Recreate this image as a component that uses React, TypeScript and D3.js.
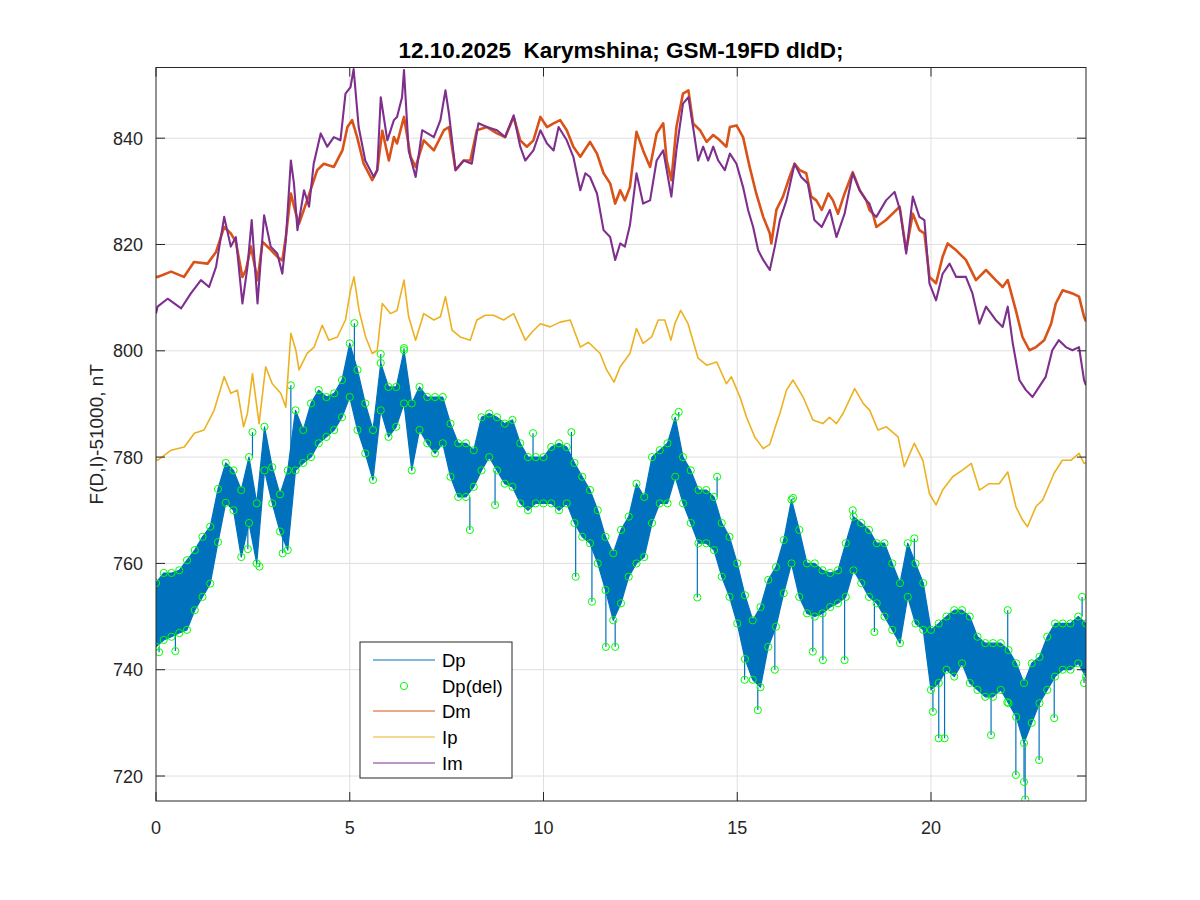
import React from "react";
import * as d3 from "d3";

const title = "12.10.2025  Karymshina; GSM-19FD dIdD;";
const yLabel = "F(D,I)-51000, nT";
const xTicks = [0, 5, 10, 15, 20];
const yTicks = [720, 740, 760, 780, 800, 820, 840];
const legendLabels = ["Dp", "Dp(del)", "Dm", "Ip", "Im"];

const dmT = [0.0,0.04,0.39,0.72,0.98,1.33,1.55,1.76,1.93,2.06,2.23,2.32,2.45,2.62,2.75,2.92,3.13,3.26,3.35,3.48,3.61,3.69,3.9,4.16,4.33,4.59,4.81,4.94,5.06,5.19,5.36,5.58,5.71,5.84,6.01,6.14,6.22,6.4,6.57,6.7,6.91,7.17,7.43,7.56,7.73,7.94,8.11,8.28,8.54,8.8,9.01,9.23,9.4,9.57,9.74,9.92,10.09,10.26,10.43,10.6,10.77,10.95,11.2,11.38,11.55,11.72,11.85,11.98,12.1,12.23,12.4,12.57,12.75,12.92,13.09,13.18,13.3,13.43,13.6,13.74,13.86,14.04,14.21,14.38,14.55,14.72,14.81,14.98,15.15,15.32,15.49,15.67,15.84,15.88,16.01,16.18,16.35,16.48,16.61,16.78,16.91,17.04,17.18,17.35,17.47,17.6,17.77,17.98,18.16,18.33,18.41,18.5,18.59,18.84,19.01,19.19,19.36,19.53,19.7,19.83,19.96,20.13,20.3,20.43,20.65,20.9,21.16,21.42,21.67,21.85,21.98,22.19,22.36,22.54,22.71,22.92,23.1,23.22,23.4,23.65,23.82,23.95,24.0];
const dmV = [813.9,813.9,814.9,813.9,816.7,816.4,818.6,823.3,822.1,820.5,813.9,815.2,819.6,813.3,820.5,819.3,817.7,817,821.4,829.6,825.8,823.9,828.3,834,835.2,834.6,837.7,842.1,843.4,840.2,835.2,832.1,834,841.4,835.8,840.2,839,844,836.5,834.6,839.6,837.7,841.5,842.1,834,835.8,835.8,841.5,842.1,840.9,840.2,844,839.6,838.4,839.6,844,842.1,842.8,843.4,841.5,838.4,836.5,839.3,837.1,833.4,831.5,827.7,830.2,828.3,830.8,841.2,837.7,834.6,840.9,842.8,835.8,832.1,842.1,848.4,849,842.8,841.5,839.3,840.6,839.6,838.4,842.1,842.4,840.2,834.6,829.6,825.2,822.1,820.2,826.5,829,832.7,835.2,834,833.4,829,828.3,826.5,829.6,828.3,825.8,829.6,833.6,830.2,828.3,826.5,825.8,823.3,824.6,825.8,827.1,818.9,825.8,822.7,822.1,813.9,812.7,817.7,820.2,818.9,817.1,813.3,815.2,813.3,812,813.3,807.6,802.6,800.1,800.7,802,805.1,808.9,811.4,810.8,810.2,806.4,805.5];

const imT = [0.0,0.04,0.3,0.65,0.9,1.16,1.37,1.55,1.76,1.93,2.06,2.23,2.36,2.47,2.62,2.79,2.96,3.13,3.26,3.35,3.48,3.56,3.65,3.82,3.95,4.07,4.25,4.42,4.59,4.76,4.89,5.02,5.1,5.23,5.4,5.62,5.71,5.8,5.97,6.14,6.22,6.35,6.4,6.52,6.7,6.87,7.17,7.34,7.47,7.56,7.73,7.94,8.15,8.32,8.54,8.8,9.01,9.23,9.4,9.53,9.74,9.92,10.09,10.26,10.39,10.6,10.77,10.95,11.08,11.2,11.38,11.55,11.72,11.85,11.98,12.1,12.23,12.4,12.57,12.75,12.92,13.09,13.3,13.43,13.6,13.74,13.86,13.99,14.12,14.25,14.38,14.51,14.68,14.81,14.98,15.15,15.28,15.41,15.54,15.67,15.84,15.97,16.1,16.27,16.48,16.65,16.82,16.99,17.18,17.39,17.56,17.77,17.98,18.16,18.33,18.41,18.5,18.59,18.84,19.06,19.2,19.36,19.53,19.7,19.83,19.96,20.13,20.3,20.48,20.65,20.9,21.07,21.25,21.42,21.67,21.85,21.98,22.11,22.28,22.45,22.62,22.79,22.96,23.13,23.3,23.48,23.65,23.82,23.95,24.0];
const imV = [807,808.3,809.8,808,810.8,813.3,812,815.8,825.2,819.6,821.4,808.9,815.8,824.6,808.9,825.5,819.6,818.3,814.5,820.8,835.8,831.5,822.7,830.2,827.1,835.2,840.9,838.4,840.2,839.6,848.4,849.6,853,842.1,835.8,832.7,834,847.7,839.6,843.4,844,847.7,852.8,837.7,832.7,841.5,840.2,843.4,849,844.6,834,835.8,835.2,842.8,842.1,841.5,840.2,844.3,838.4,835.8,837.7,841.5,839,837.7,842.1,839.6,836.5,830.2,833.4,832.7,829.6,822.7,821.4,817.1,820.2,819.6,823.6,833.4,827.7,828.3,835.8,837.7,829,837.7,846.5,847.7,842.1,835.8,838.4,835.8,838.4,835.8,834,837.1,835.2,830.8,826.5,823.3,818.9,817.1,815.2,819.6,824.6,828.3,835.2,832.7,831.5,824.6,823.3,826.5,821.4,825.8,833.4,830.2,828.3,827.7,825.8,825.2,828.3,829.9,826.5,818.3,829,825.2,824.6,812.7,809.5,814.5,816.4,813.9,813.9,810.8,805.1,808.3,805.8,804.5,808.3,801.4,794.5,792.6,791.3,793.2,795.1,800.1,802,800.7,800.1,800.7,794.5,793.5];

const ipT = [0.0,0.04,0.39,0.73,0.99,1.24,1.5,1.76,1.93,2.1,2.26,2.36,2.49,2.66,2.83,3.0,3.22,3.35,3.48,3.61,3.69,3.9,4.08,4.29,4.46,4.68,4.89,5.02,5.11,5.24,5.41,5.58,5.71,5.84,6.05,6.22,6.4,6.52,6.7,6.91,7.17,7.34,7.47,7.64,7.85,8.11,8.28,8.5,8.71,8.97,9.23,9.53,9.7,9.92,10.17,10.43,10.69,10.95,11.16,11.46,11.63,11.82,11.98,12.23,12.4,12.57,12.79,12.96,13.13,13.29,13.39,13.54,13.73,13.99,14.21,14.47,14.72,14.85,15.07,15.24,15.45,15.67,15.84,16.01,16.1,16.27,16.44,16.7,16.95,17.21,17.38,17.56,17.73,18.03,18.25,18.42,18.63,18.85,19.15,19.31,19.57,19.79,19.96,20.13,20.3,20.56,20.82,21.04,21.25,21.5,21.76,21.98,22.19,22.36,22.49,22.71,22.88,23.18,23.39,23.61,23.82,23.95,24.0];
const ipV = [779.5,779.4,781.3,781.9,784.5,785.1,788.8,795.1,792,792.6,785.7,788.2,795.7,786.3,797,793.8,792,789.4,803.3,800.1,796.4,799.5,800.7,804.8,802,802.6,805.8,811.4,813.9,807.6,802.6,799.5,800.1,808.9,807,807.6,813.3,806.4,802,807,805.8,806.4,810.2,803.9,802.6,802,805.8,806.7,806.7,805.8,807,802,803.5,805.1,804.5,805.4,805.8,800.7,801.6,799.5,796.4,794.1,797,799.5,804.2,801.4,802.6,805.8,805.8,802,805.1,807.6,805.1,798.6,797.3,797.9,793.8,795.1,791.3,787.5,783.8,781.6,782.4,786.3,788.2,792.6,794.5,791.3,787,786.3,787.5,786.3,788.2,792.9,790.1,788.8,785.1,785.7,783.8,778.2,782.6,779.4,773.1,771,773.8,776.3,777.6,778.8,773.8,775,775,777.2,770.7,768.2,766.9,770.7,771.9,777,779.4,779.4,780.7,778.8,779];

// Dp: upper and lower edge of the noisy band, sampled every 0.2 h
const dpT = [0,0.2,0.4,0.6,0.8,1,1.2,1.4,1.6,1.8,2,2.2,2.4,2.6,2.8,3,3.2,3.4,3.6,3.8,4,4.2,4.4,4.6,4.8,5,5.2,5.4,5.6,5.8,6,6.2,6.4,6.6,6.8,7,7.2,7.4,7.6,7.8,8,8.2,8.4,8.6,8.8,9,9.2,9.4,9.6,9.8,10,10.2,10.4,10.6,10.8,11,11.2,11.4,11.6,11.8,12,12.2,12.4,12.6,12.8,13,13.2,13.4,13.6,13.8,14,14.2,14.4,14.6,14.8,15,15.2,15.4,15.6,15.8,16,16.2,16.4,16.6,16.8,17,17.2,17.4,17.6,17.8,18,18.2,18.4,18.6,18.8,19,19.2,19.4,19.6,19.8,20,20.2,20.4,20.6,20.8,21,21.2,21.4,21.6,21.8,22,22.2,22.4,22.6,22.8,23,23.2,23.4,23.6,23.8,24];
const dpHi = [756.3,758.2,758.2,758.7,760.6,762.5,765,766.9,774,778.9,777.5,773.8,780,771.3,785.7,778.1,773,777.5,788.8,785.1,790.1,792.6,791.3,792,794.5,801.4,796.4,790.1,785.1,797.7,793.2,793.2,800.1,790.1,793.2,791.3,791.3,791.3,786.3,782.6,782.6,781.3,787.5,788.2,787.5,786.3,787,782.6,780,780,780,781.9,782.6,781.9,778.9,776.3,773.8,770,765,761.9,766.3,768.8,775,772.5,780,781.3,782.6,787.5,780,777.5,773.8,773.8,772.5,767.6,765,760,754,749.3,751.8,756.9,759.3,764.4,772,766.3,760,760,758.7,758.2,758.7,763.8,768.8,767.6,766.3,763.8,763.8,760,756.3,763.8,760,756.3,747.5,748.7,750,751.2,751.2,750,746.2,745,745,745,743.7,741.2,737.5,741.2,742.4,746.2,748.7,748.7,748.7,750,748.7];
const dpLo = [744.3,745.6,746.2,746.9,747.5,751.2,753.7,756.2,764,771.4,770,761.2,767.6,760,777.5,771.3,766,762.5,777.5,778.9,780,782.6,783.8,785.1,787.5,791.3,785.1,780.7,775.7,788.8,783.8,785.7,790.1,777.5,785.1,782.6,780.7,782.6,776.3,772.5,772.5,774.4,777.5,780,777.5,775,774.4,771.3,770,771.3,771.3,771.3,770,771.3,767.6,765,763.8,760,755,749.3,752.5,757.5,760,761.2,767.6,771.3,771.3,776.3,771.3,767.6,763.8,763.8,762.5,757.5,753.7,748.7,742,738.1,736.7,744.3,748.1,754.4,760,753.7,750.6,750,750.6,751.8,752.5,753.7,758.7,756.3,753.7,752.5,750,747.5,745,753.7,748.7,747.5,736.2,737.5,740,738.7,741.2,737.5,736.2,734.9,734.9,736.2,733.7,731.1,726.2,730,733.7,736.2,738.7,740,740,741.2,738.7];

// Dp(del) outliers away from the band
const delT = [0.08,0.5,2.37,2.49,2.67,3.27,3.48,5.12,5.8,6.4,8.1,8.75,9.73,10.72,10.83,11.25,11.61,11.85,13.49,13.97,14.48,15.19,15.53,15.97,16.44,16.95,17.21,17.77,17.98,18.54,19.57,20.05,20.2,20.35,21.55,21.98,21.97,22.19,22.4,22.43,22.79,23.18,23.9,23.95];
const delV = [743.3,743.5,762.7,784.7,759.4,761.9,793.5,805.2,799.4,800.5,766.3,771,784.5,784.7,757.5,752.8,744.3,744.3,788.5,753.6,776.3,738.1,732.4,740,772.3,743.4,741.8,741.8,770,747.1,764.7,732.1,727.1,727.1,727.7,751.2,733.9,720.2,718.9,715.6,723,730.9,753.7,737.5];

const W = 1200, H = 900;
const L = 156, R = 1086, T = 67.5, B = 801;

const C = {
  dp: "#0072BD",
  del: "#00FF00",
  dm: "#D95319",
  ip: "#EDB120",
  im: "#7E2F8E",
  axis: "#262626",
  grid: "#DFDFDF",
};

const font = "'Liberation Sans', Arial, Helvetica, sans-serif";

export default function App() {
  const x = d3.scaleLinear().domain([0, 24]).range([L, R]);
  const y = d3.scaleLinear().domain([715.3, 853.3]).range([B, T]);

  const mkLine = (ts: number[], vs: number[]) =>
    d3.line<number>().x((_, i) => x(ts[i])).y((v) => y(v))(vs) || "";

  const band = d3
    .area<number>()
    .x((_, i) => x(dpT[i]))
    .y0((_, i) => y(dpLo[i]))
    .y1((v) => y(v))(dpHi) || "";

  const spikes = delT.map((t, k) => {
    const i = Math.round(t / 0.2);
    const v = delV[k];
    const edge = v < dpLo[i] ? dpLo[i] : v > dpHi[i] ? dpHi[i] : v;
    return { x: x(t), y1: y(edge), y2: y(v) };
  });

  const tickLen = 9;
  const legX = 360, legY = 642, legW = 152, legH = 136;
  const rowY = [660, 686, 711, 737, 763];

  return (
    <div style={{ position: "absolute", left: 0, top: 0 }}>
      <svg width={W} height={H} style={{ display: "block", background: "#fff" }}>
        <defs>
          <clipPath id="plotclip">
            <rect x={L} y={T} width={R - L} height={B - T} />
          </clipPath>
        </defs>
        <rect x={L} y={T} width={R - L} height={B - T} fill="#fff" />
        {xTicks.slice(1).map((t) => (
          <line key={"gx" + t} x1={x(t)} x2={x(t)} y1={T} y2={B} stroke={C.grid} strokeWidth={1} />
        ))}
        {yTicks.map((v) => (
          <line key={"gy" + v} x1={L} x2={R} y1={y(v)} y2={y(v)} stroke={C.grid} strokeWidth={1} />
        ))}
        <g clipPath="url(#plotclip)">
          <path d={band} fill={C.dp} stroke={C.dp} strokeWidth={1.2} strokeLinejoin="round" />
          {spikes.map((s, k) => (
            <line key={"sp" + k} x1={s.x} x2={s.x} y1={s.y1} y2={s.y2} stroke={C.dp} strokeWidth={1.2} />
          ))}
          {dpT.map((t, i) => (
            <g key={"c" + i}>
              <circle cx={x(t)} cy={y(dpHi[i])} r={3.6} fill="none" stroke={C.del} strokeWidth={1} />
              <circle cx={x(t)} cy={y(dpLo[i])} r={3.6} fill="none" stroke={C.del} strokeWidth={1} />
            </g>
          ))}
          {delT.map((t, k) => (
            <circle key={"d" + k} cx={x(t)} cy={y(delV[k])} r={3.6} fill="none" stroke={C.del} strokeWidth={1} />
          ))}
          <path d={mkLine(dmT, dmV)} fill="none" stroke={C.dm} strokeWidth={2.6} strokeLinejoin="round" />
          <path d={mkLine(ipT, ipV)} fill="none" stroke={C.ip} strokeWidth={1.6} strokeLinejoin="round" />
          <path d={mkLine(imT, imV)} fill="none" stroke={C.im} strokeWidth={2.1} strokeLinejoin="round" />
        </g>
        <rect x={L} y={T} width={R - L} height={B - T} fill="none" stroke={C.axis} strokeWidth={1} />
        {xTicks.map((t) => (
          <g key={"tx" + t}>
            <line x1={x(t)} x2={x(t)} y1={B} y2={B - tickLen} stroke={C.axis} />
            <line x1={x(t)} x2={x(t)} y1={T} y2={T + tickLen} stroke={C.axis} />
            <text x={x(t)} y={B + 33} textAnchor="middle" fontFamily={font} fontSize={18} fill={C.axis}>
              {t}
            </text>
          </g>
        ))}
        {yTicks.map((v) => (
          <g key={"ty" + v}>
            <line x1={L} x2={L + tickLen} y1={y(v)} y2={y(v)} stroke={C.axis} />
            <line x1={R} x2={R - tickLen} y1={y(v)} y2={y(v)} stroke={C.axis} />
            <text x={L - 13} y={y(v) + 6.5} textAnchor="end" fontFamily={font} fontSize={18} fill={C.axis}>
              {v}
            </text>
          </g>
        ))}
        <text
          transform={`translate(103, ${(T + B) / 2}) rotate(-90)`}
          textAnchor="middle"
          fontFamily={font}
          fontSize={19}
          fill={C.axis}
        >
          {yLabel}
        </text>
        <text
          x={(L + R) / 2}
          y={58}
          textAnchor="middle"
          fontFamily={font}
          fontSize={22.5}
          fontWeight="bold"
          fill="#000"
          xmlSpace="preserve"
          style={{ whiteSpace: "pre" }}
        >
          {title}
        </text>
        <rect x={legX} y={legY} width={legW} height={legH} fill="#fff" stroke={C.axis} strokeWidth={1} />
        {legendLabels.map((lab, i) => {
          const col = [C.dp, C.del, C.dm, C.ip, C.im][i];
          return (
            <g key={"lg" + i}>
              {i === 1 ? (
                <circle cx={404} cy={rowY[i]} r={3.6} fill="none" stroke={col} strokeWidth={1} />
              ) : (
                <line x1={373} x2={435} y1={rowY[i]} y2={rowY[i]} stroke={col} strokeWidth={1} />
              )}
              <text x={442} y={rowY[i] + 6.5} fontFamily={font} fontSize={18.5} fill="#000">
                {lab}
              </text>
            </g>
          );
        })}
      </svg>
    </div>
  );
}
